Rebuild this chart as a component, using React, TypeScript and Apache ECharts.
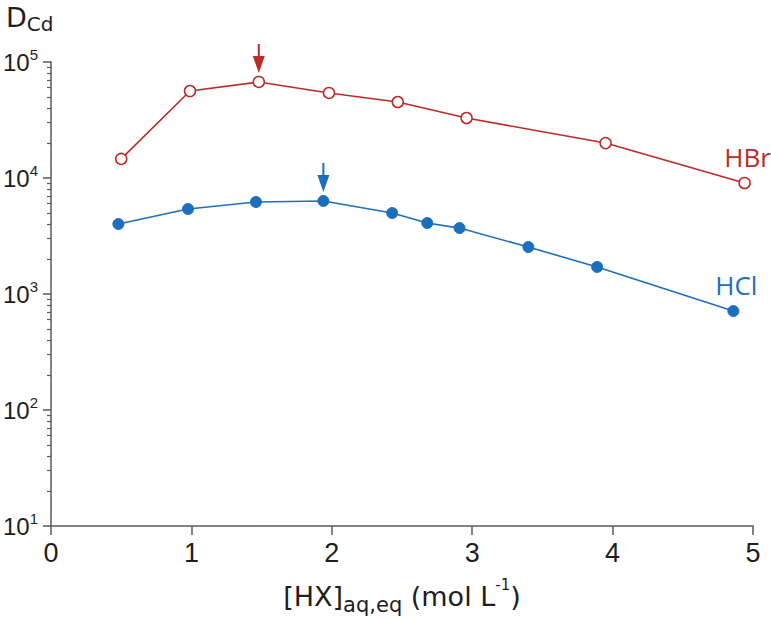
import React, { useEffect, useRef } from 'react';
import * as echarts from 'echarts';

// HBr (open circles)
const hbrX = [0.5, 0.99, 1.48, 1.98, 2.47, 2.96, 3.95, 4.94];
const hbrY = [14600, 56200, 67300, 54100, 45200, 32900, 20000, 9060];
// HCl (filled circles)
const hclX = [0.48, 0.976, 1.46, 1.94, 2.43, 2.68, 2.91, 3.4, 3.89, 4.86];
const hclY = [4010, 5400, 6210, 6340, 4990, 4090, 3700, 2540, 1710, 713];
// axis ticks
const xTicks = [0, 1, 2, 3, 4, 5];
const yDecades = [10, 100, 1000, 10000, 100000];
const minorMultipliers = [2, 3, 4, 5, 6, 7, 8, 9];
// maxima marked by arrows (index into each series)
const hbrPeakIndex = 2;
const hclPeakIndex = 3;

const RED = '#bb2b27';
const BLUE = '#1d6fbe';
const AXIS = '#5a5a5a';
const TXT = '#1e1e1e';
const FONT = 'DejaVu Sans';
const FONT_TICK = "'Liberation Sans', Arial, 'DejaVu Sans'";
const FONT_LBL = "'Open Sans', 'DejaVu Sans'";
const ARROW = 'path://M5,0 L7,0 L7,12 L12,12 L6,29 L0,12 L5,12 Z';

export default function App() {
  const ref = useRef<HTMLDivElement>(null);
  useEffect(() => {
    document.body.style.margin = '0';
    const chart = echarts.init(ref.current!, null, { renderer: 'svg' });
    const minorTicks: number[] = [];
    yDecades.slice(0, -1).forEach((d) => minorMultipliers.forEach((m) => minorTicks.push(d * m)));

    const mk = (xs: number[], ys: number[], name: string, color: string, offX: number) =>
      xs.map((x, i) => {
        const item: any = { value: [x, ys[i]] };
        if (i === xs.length - 1) {
          item.label = {
            show: true, formatter: name, position: 'top', distance: 7, offset: [offX, 0],
            color, fontSize: 26, fontFamily: FONT_LBL,
          };
        }
        return item;
      });

    const arrowMark = (xs: number[], ys: number[], idx: number, color: string) => ({
      silent: true,
      symbol: ARROW,
      symbolSize: [12, 29],
      symbolOffset: [0, -23.5],
      itemStyle: { color, borderWidth: 0 },
      label: { show: false },
      data: [{ coord: [xs[idx], ys[idx]] }],
    });

    chart.setOption({
      animation: false,
      title: {
        text: '{d|D}{s|Cd}',
        left: 6,
        top: 0,
        padding: 0,
        textStyle: {
          fontWeight: 'normal',
          rich: {
            d: { fontSize: 27, fontFamily: FONT, fontWeight: 'normal', color: TXT, lineHeight: 34, verticalAlign: 'middle' },
            s: { fontSize: 20, fontFamily: FONT, fontWeight: 'normal', color: TXT, lineHeight: 20, verticalAlign: 'bottom' },
          },
        },
      },
      grid: { left: 51, right: 18, top: 62, bottom: 95, outerBoundsMode: 'none', containLabel: false },
      xAxis: {
        type: 'value',
        min: xTicks[0],
        max: xTicks[xTicks.length - 1],
        interval: 1,
        axisLine: { show: true, lineStyle: { color: AXIS, width: 1.5 } },
        axisTick: { show: true, length: 9, lineStyle: { color: AXIS, width: 1.5 } },
        axisLabel: { fontSize: 27, fontFamily: FONT_TICK, color: TXT, margin: 13 },
        splitLine: { show: false },
        name: '{m|[HX]}{s|aq,eq}{m| (mol L}{p|-1}{m|)}',
        nameLocation: 'middle',
        nameGap: 51,
        nameTextStyle: {
          rich: {
            m: { fontSize: 27, fontFamily: FONT, color: TXT, lineHeight: 38, verticalAlign: 'middle' },
            s: { fontSize: 21, fontFamily: FONT, color: TXT, lineHeight: 21, verticalAlign: 'bottom' },
            p: { fontSize: 15, fontFamily: FONT, color: TXT, lineHeight: 30, verticalAlign: 'top' },
          },
        },
      },
      yAxis: [
        {
          type: 'log',
          logBase: 10,
          min: yDecades[0],
          max: yDecades[yDecades.length - 1],
          axisLine: { show: true, lineStyle: { color: AXIS, width: 1.5 } },
          axisTick: { show: true, length: 8, lineStyle: { color: AXIS, width: 1.5 } },
          axisLabel: {
            margin: 13,
            formatter: (v: number) => '{b|10}{s|' + Math.round(Math.log10(v)) + '}',
            rich: {
              b: { fontSize: 24, fontFamily: FONT_TICK, color: TXT, lineHeight: 30, verticalAlign: 'middle' },
              s: { fontSize: 15, fontFamily: FONT_TICK, color: TXT, lineHeight: 16, verticalAlign: 'top' },
            },
          },
          splitLine: { show: false },
        },
        {
          type: 'log',
          logBase: 10,
          min: yDecades[0],
          max: yDecades[yDecades.length - 1],
          position: 'left',
          axisLine: { show: false },
          axisTick: { show: true, length: 4, customValues: minorTicks, lineStyle: { color: AXIS, width: 1.2 } },
          axisLabel: { show: false },
          splitLine: { show: false },
        },
      ],
      series: [
        {
          name: 'HBr',
          type: 'line',
          yAxisIndex: 0,
          data: mk(hbrX, hbrY, 'HBr', RED, 3),
          symbol: 'circle',
          symbolSize: 11,
          clip: false,
          z: 3,
          itemStyle: { color: '#ffffff', borderColor: RED, borderWidth: 1.5 },
          lineStyle: { color: RED, width: 1.6 },
          markPoint: arrowMark(hbrX, hbrY, hbrPeakIndex, RED),
        },
        {
          name: 'HCl',
          type: 'line',
          yAxisIndex: 0,
          data: mk(hclX, hclY, 'HCl', BLUE, 3),
          symbol: 'circle',
          symbolSize: 11,
          clip: false,
          z: 3,
          itemStyle: { color: BLUE, borderColor: BLUE, borderWidth: 1 },
          lineStyle: { color: BLUE, width: 1.6 },
          markPoint: arrowMark(hclX, hclY, hclPeakIndex, BLUE),
        },
      ],
    });
    return () => chart.dispose();
  }, []);
  return <div ref={ref} style={{ width: 771, height: 621 }} />;
}
